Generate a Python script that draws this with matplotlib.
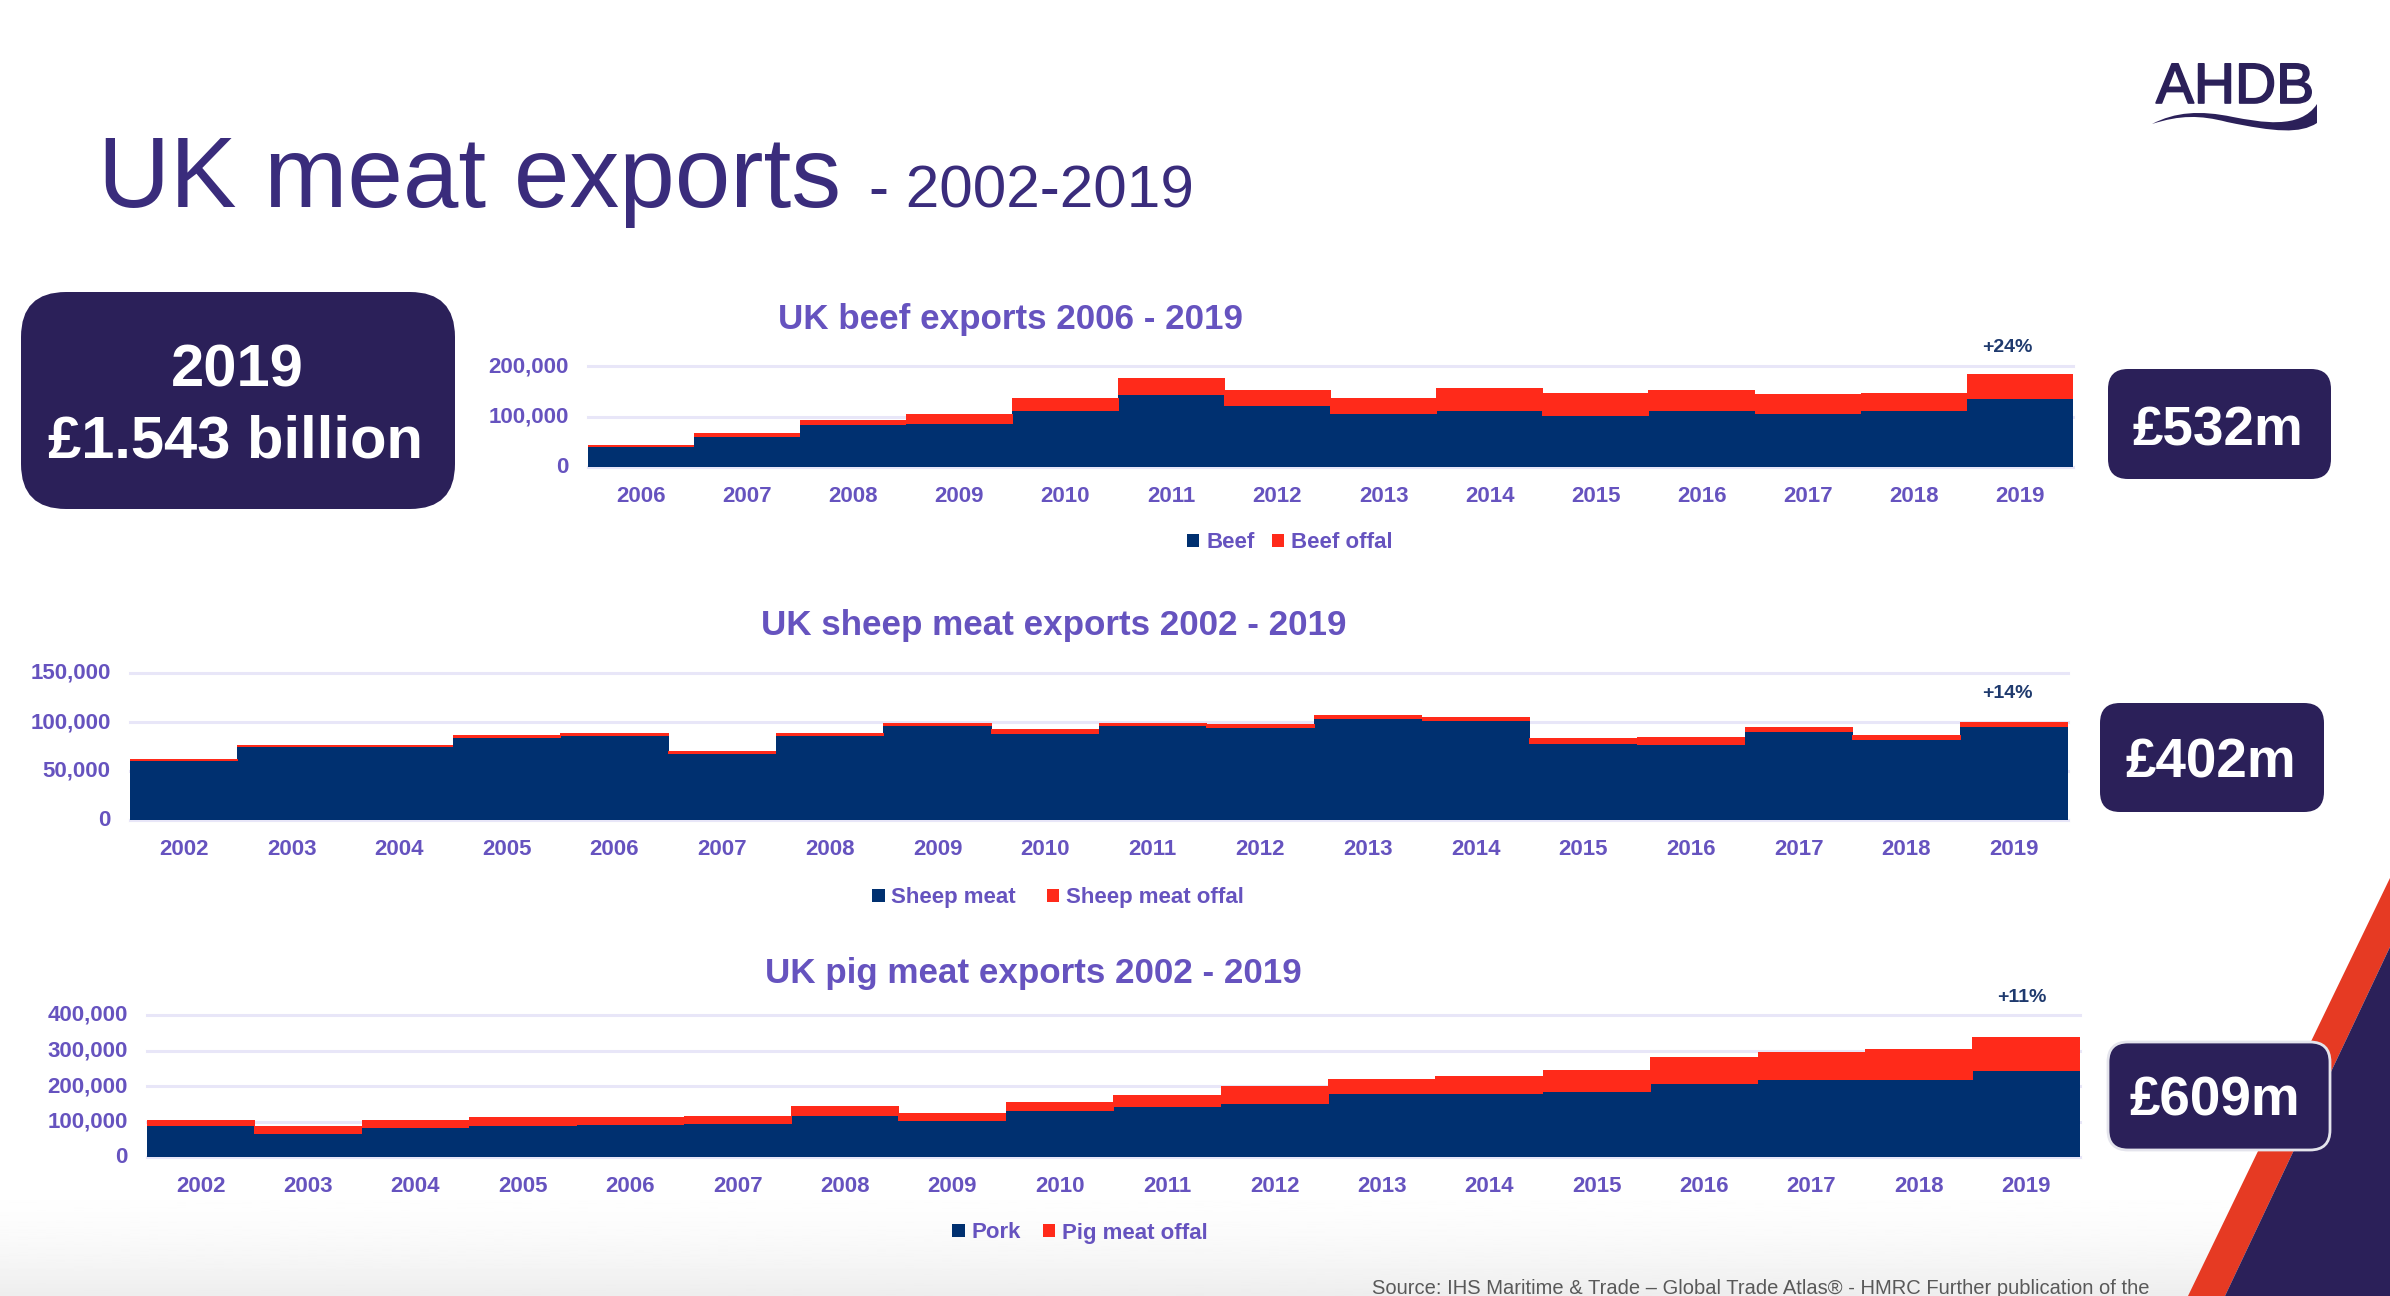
import matplotlib
matplotlib.use("Agg")
import matplotlib.pyplot as plt
import numpy as np
from matplotlib.patches import FancyBboxPatch, Polygon, PathPatch
from matplotlib.path import Path
from matplotlib.transforms import ScaledTranslation
import matplotlib.patheffects as pe

plt.rcParams['font.family'] = ['Liberation Sans', 'DejaVu Sans']

# ---- data ----
beef_years = list(range(2006, 2020))
beef = [39600, 60000, 83000, 84500, 110000, 143000, 121000, 105600, 110000, 101000, 110000, 105600, 110000, 135000]
beef_offal = [3900, 6700, 11000, 20500, 27000, 34000, 31000, 31400, 47000, 46000, 42000, 39400, 37000, 50000]

sheep_years = list(range(2002, 2020))
sheep = [60000, 75000, 75000, 83600, 85600, 67200, 85600, 95800, 87700, 95800, 93800, 103400, 101300, 77800, 76800, 89700, 81900, 94900]
sheep_offal = [2000, 1700, 1700, 2700, 3100, 2800, 3100, 3500, 5100, 3500, 3800, 3400, 4100, 5800, 8200, 5500, 5100, 5100]

pig_years = list(range(2002, 2020))
pork = [87000, 65300, 80400, 87000, 90800, 93700, 116400, 100300, 129600, 140000, 150400, 178800, 178800, 183500, 204300, 215700, 215700, 243000]
pig_offal = [16000, 21700, 22600, 26500, 22700, 22700, 28300, 22700, 25400, 36000, 50100, 39700, 48200, 60500, 78700, 81300, 88000, 95700]

beef_ticks = [0, 100000, 200000]
sheep_ticks = [0, 50000, 100000, 150000]
pig_ticks = [0, 100000, 200000, 300000, 400000]

W, H = 2390, 1296
NAVY = '#003070'
RED = '#FF2A1A'
BOX = '#2B2059'
PURPLE = '#6653BF'
GRID = '#E8E6F8'

fig = plt.figure(figsize=(W / 100, H / 100), dpi=100, facecolor='white')

# ---- full-slide layer, pixel coordinates ----
bg = fig.add_axes([0, 0, 1, 1], zorder=0)
bg.axis('off')

ramp = np.linspace(0, 1, 100).reshape(-1, 1)
bg.imshow(1 - 0.07 * ramp ** 2, extent=[0, W, H, 1170], cmap='gray', vmin=0, vmax=1, aspect='auto', zorder=0)
bg.set_xlim(0, W)
bg.set_ylim(H, 0)

bg.add_patch(Polygon([(2188, 1296), (2390, 878), (2390, 947), (2225, 1296)], closed=True, fc='#E63A23', ec='none', zorder=1))
bg.add_patch(Polygon([(2225, 1296), (2390, 947), (2390, 1296)], closed=True, fc=BOX, ec='none', zorder=1))


def box(x0, y0, x1, y1, r, ec='none', lw=0):
    bg.add_patch(FancyBboxPatch((x0 + r, y0 + r), x1 - x0 - 2 * r, y1 - y0 - 2 * r,
                                boxstyle=f'round,pad={r},rounding_size={r}',
                                fc=BOX, ec=ec, lw=lw, zorder=2))


box(21, 292, 455, 509, 45)
box(2108, 369, 2331, 479, 20)
box(2100, 703, 2324, 812, 20)
box(2108, 1042, 2330, 1150, 20, ec='#E4E4EC', lw=2)

wkw = dict(color='white', weight='bold', ha='center', va='center', zorder=3)
bg.text(237, 371, '2019', fontsize=43, **wkw)
bg.text(236, 442, '£1.543 billion', fontsize=43, **wkw)
bg.text(2218, 432, '£532m', fontsize=39.5, **wkw)
bg.text(2211, 763, '£402m', fontsize=39.5, **wkw)
bg.text(2215, 1102, '£609m', fontsize=39.5, **wkw)

# title
bg.text(98, 207, 'UK meat exports', fontsize=71.8, color='#3A2C7C', ha='left', va='baseline', zorder=3)
bg.text(869, 207, '- 2002-2019', fontsize=43.4, color='#3A2C7C', ha='left', va='baseline', zorder=3)

# logo
bg.text(2235, 103, 'AHDB', fontsize=41, color=BOX, ha='center', va='baseline', zorder=3,
        path_effects=[pe.withStroke(linewidth=1.2, foreground=BOX)])
verts = [(2152, 124),
         (2175, 112), (2200, 110), (2233, 117),
         (2260, 122), (2300, 130), (2317, 104),
         (2317, 110), (2317, 116), (2317, 123),
         (2300, 134), (2275, 132), (2227, 122),
         (2200, 115), (2180, 115), (2152, 124)]
codes = [Path.MOVETO] + [Path.CURVE4] * 15
bg.add_patch(PathPatch(Path(verts, codes), fc=BOX, ec='none', zorder=3))

# chart titles
tkw = dict(color=PURPLE, weight='bold', fontsize=25.2, ha='center', va='center', zorder=3)
bg.text(1011, 319, 'UK beef exports 2006 - 2019', **tkw)
bg.text(1054, 625, 'UK sheep meat exports 2002 - 2019', **tkw)
bg.text(1033, 973, 'UK pig meat exports 2002 - 2019', **tkw)

# change notes
nkw = dict(color='#1F3A6E', weight='bold', fontsize=14, ha='center', va='center', zorder=3)
bg.text(2007, 347, '+24%', **nkw)
bg.text(2007, 694, '+14%', **nkw)
bg.text(2022, 998, '+11%', **nkw)

bg.text(1372, 1294, 'Source: IHS Maritime & Trade – Global Trade Atlas® - HMRC Further publication of the',
        fontsize=14.5, color='#595959', ha='left', va='baseline', zorder=3)


# ---- charts ----
def chart(years, main, offal, ticks, x0, x1, y0, ytop, main_name, offal_name, legend_xy, colsp):
    ax = fig.add_axes([x0 / W, 1 - y0 / H, (x1 - x0) / W, (y0 - ytop) / H], zorder=2)
    ax.patch.set_alpha(0)
    x = np.arange(len(years))
    main = np.array(main)
    offal = np.array(offal)
    b1 = ax.bar(x, main, width=1.005, color=NAVY, linewidth=0, zorder=3, label=main_name)
    b2 = ax.bar(x, offal, width=1.005, bottom=main, color=RED, linewidth=0, zorder=3, label=offal_name)
    ax.set_xlim(-0.5, len(years) - 0.5)
    ax.set_ylim(0, ticks[-1])
    ax.set_yticks(ticks)
    ax.set_yticklabels([f'{t:,}' for t in ticks])
    ax.set_xticks(x)
    ax.set_xticklabels([str(y) for y in years])
    for s in ['top', 'left', 'right']:
        ax.spines[s].set_visible(False)
    ax.spines['bottom'].set_color(GRID)
    ax.spines['bottom'].set_linewidth(2.2)
    ax.yaxis.grid(True, color=GRID, lw=2.2, zorder=1)
    ax.set_axisbelow(True)
    for ln in ax.get_ygridlines():
        ln.set_clip_on(False)
    ax.tick_params(axis='both', length=0, labelsize=16, labelcolor=PURPLE)
    ax.tick_params(axis='x', pad=14)
    ax.tick_params(axis='y', pad=14)
    for lab in ax.get_xticklabels() + ax.get_yticklabels():
        lab.set_fontweight('bold')
    up = ScaledTranslation(0, 2 / 100, fig.dpi_scale_trans)
    for lab in ax.get_yticklabels():
        lab.set_transform(lab.get_transform() + up)
    fig.legend(handles=[b1, b2], labels=[main_name, offal_name], loc='center',
               bbox_to_anchor=(legend_xy[0] / W, 1 - legend_xy[1] / H), ncol=2, frameon=False,
               labelcolor=PURPLE, prop={'weight': 'bold', 'size': 16, 'family': 'Liberation Sans'},
               handlelength=0.55, handleheight=0.55, handletextpad=0.3, columnspacing=colsp,
               borderpad=0, borderaxespad=0)
    return ax


chart(beef_years, beef, beef_offal, beef_ticks, 588, 2073, 467, 366, 'Beef', 'Beef offal', (1290, 543), 0.8)
chart(sheep_years, sheep, sheep_offal, sheep_ticks, 130, 2068, 820, 673, 'Sheep meat', 'Sheep meat offal', (1058, 898), 1.4)
chart(pig_years, pork, pig_offal, pig_ticks, 147, 2080, 1157, 1015, 'Pork', 'Pig meat offal', (1080, 1233), 1.0)

fig.savefig('out.png', dpi=100)
